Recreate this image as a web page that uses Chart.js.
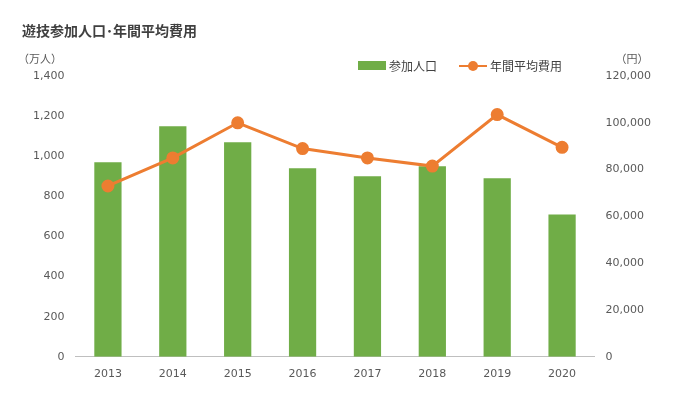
<!DOCTYPE html>
<html><head><meta charset="utf-8">
<script src="https://cdn.jsdelivr.net/npm/chart.js@4"></script>
<style>
body{margin:0;background:#fff;font-family:"Noto Sans CJK JP","Noto Sans",sans-serif;}
#wrap{position:relative;width:685px;height:400px;}
#title{position:absolute;left:22px;top:20px;font-size:14px;font-weight:bold;color:#404040;}
#legend{position:absolute;left:358px;top:57px;font-size:12px;color:#404040;display:flex;align-items:center;}
.sw{display:inline-block;width:28px;height:9px;background:#70AD47;margin-right:3px;}
.ln{display:inline-block;position:relative;width:28px;height:2px;background:#ED7D31;margin:0 3px 0 22px;}
.ln:after{content:"";position:absolute;left:9px;top:-4px;width:10px;height:10px;border-radius:50%;background:#ED7D31;}
</style></head><body>
<div id="wrap">
<canvas id="c" width="685" height="400"></canvas>
<div id="title">遊技参加人口･年間平均費用</div>
<div id="legend"><span class="sw"></span>参加人口<span class="ln"></span>年間平均費用</div>
</div>
<script>
const years=["2013","2014","2015","2016","2017","2018","2019","2020"];
const population=[970,1150,1070,940,900,950,890,710];
const avgCost=[73000,85000,100000,89000,85000,81500,103500,89500];
const font={family:"Verdana, 'DejaVu Sans', sans-serif",size:11};
const units={id:'units',afterDraw(ch){const c=ch.ctx;c.save();c.font="11px 'Noto Sans CJK JP'";c.fillStyle="#595959";c.textAlign="center";c.fillText("（万人）",40,63);c.fillText("（円）",632,63);c.restore();}};
new Chart(document.getElementById('c'),{
data:{labels:years,datasets:[
{type:'line',data:avgCost,yAxisID:'y2',borderColor:'#ED7D31',backgroundColor:'#ED7D31',borderWidth:3,pointRadius:5,pointHoverRadius:5,order:0},
{type:'bar',data:population,yAxisID:'y',backgroundColor:'#70AD47',barPercentage:0.42,categoryPercentage:1,order:1}
]},
options:{responsive:false,animation:false,plugins:{legend:{display:false},tooltip:{enabled:false}},
layout:{padding:{left:30,right:31,top:76,bottom:16}},
scales:{
x:{grid:{display:false},border:{color:'#bfbfbf'},ticks:{color:'#595959',font}},
y:{position:'left',min:0,max:1400,ticks:{stepSize:200,color:'#595959',font},grid:{display:false},border:{display:false}},
y2:{position:'right',min:0,max:120000,ticks:{stepSize:20000,color:'#595959',font,callback:v=>v.toLocaleString('en-US')},grid:{display:false},border:{display:false}}
}},
plugins:[units]});
</script></body></html>
